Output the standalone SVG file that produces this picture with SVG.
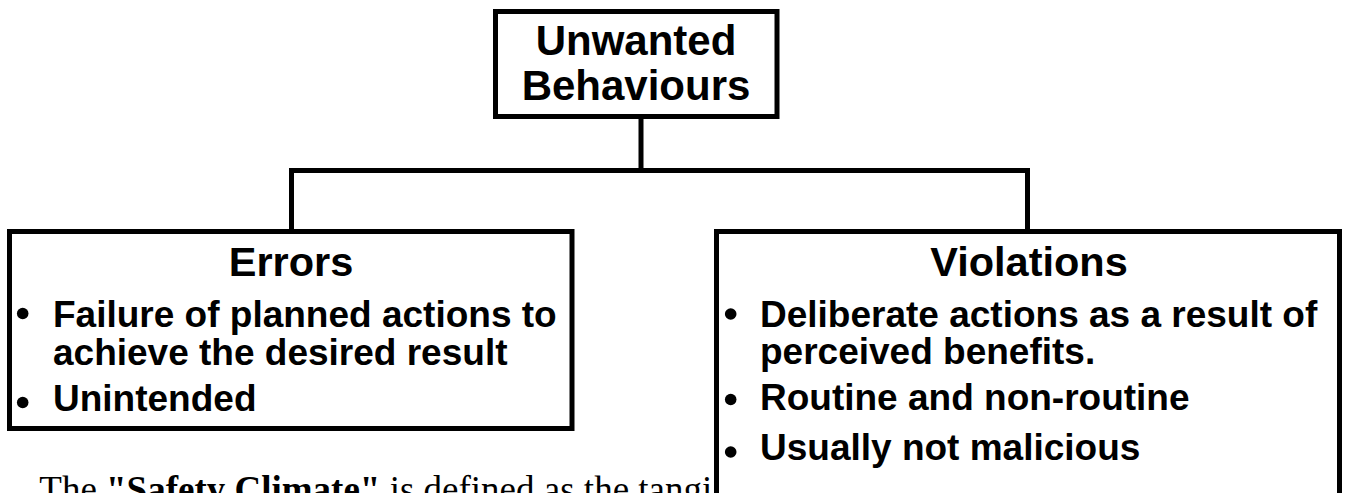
<svg xmlns="http://www.w3.org/2000/svg" width="1345" height="493" viewBox="0 0 1345 493">
<style>
.box{fill:#fff;stroke:#000;stroke-width:5}
.conn{fill:none;stroke:#000;stroke-width:5;stroke-linejoin:miter;stroke-linecap:square}
.head{font-family:"Liberation Sans",Arial,sans-serif;font-weight:bold;font-size:42px;text-anchor:middle;fill:#000}
.title{font-family:"Liberation Sans",Arial,sans-serif;font-weight:bold;font-size:41.5px;text-anchor:middle;fill:#000}
.item{font-family:"Liberation Sans",Arial,sans-serif;font-weight:bold;font-size:37px;fill:#000}
.bul{fill:#000}
.body{font-family:"Liberation Serif","Times New Roman",serif;font-size:37px;fill:#000}
</style>
<rect x="0" y="0" width="1345" height="493" fill="#fff"/>
<text class="body" x="39.3" y="502">The <tspan font-weight="bold">&quot;Safety Climate&quot;</tspan> is defined as the tangi</text>
<g id="connectors">
<path class="conn" d="M641,116.5 V170.5 M291.5,231.5 V170.5 H1027.5 V231.5"/>
</g>
<g id="unwanted-behaviours">
<rect class="box" x="495.5" y="11.5" width="281.5" height="105"/>
<text class="head" x="636" y="55">Unwanted</text>
<text class="head" x="636" y="100">Behaviours</text>
</g>
<g id="errors">
<rect class="box" x="9.5" y="231.5" width="562.5" height="197"/>
<text class="title" x="291" y="276">Errors</text>
<circle class="bul" cx="22.7" cy="313.5" r="5.8"/>
<text class="item" x="53" y="327">Failure of planned actions to</text>
<text class="item" x="53" y="365">achieve the desired result</text>
<circle class="bul" cx="22.7" cy="402.5" r="5.8"/>
<text class="item" x="53" y="411">Unintended</text>
</g>
<g id="violations">
<rect class="box" x="716.5" y="231.5" width="623" height="300"/>
<text class="title" x="1029" y="276">Violations</text>
<circle class="bul" cx="730.7" cy="314" r="5.8"/>
<text class="item" x="760" y="327">Deliberate actions as a result of</text>
<text class="item" x="760" y="364">perceived benefits.</text>
<circle class="bul" cx="730.7" cy="399.5" r="5.8"/>
<text class="item" x="760" y="410">Routine and non-routine</text>
<circle class="bul" cx="730.7" cy="452" r="5.8"/>
<text class="item" x="760" y="460">Usually not malicious</text>
</g>
</svg>
